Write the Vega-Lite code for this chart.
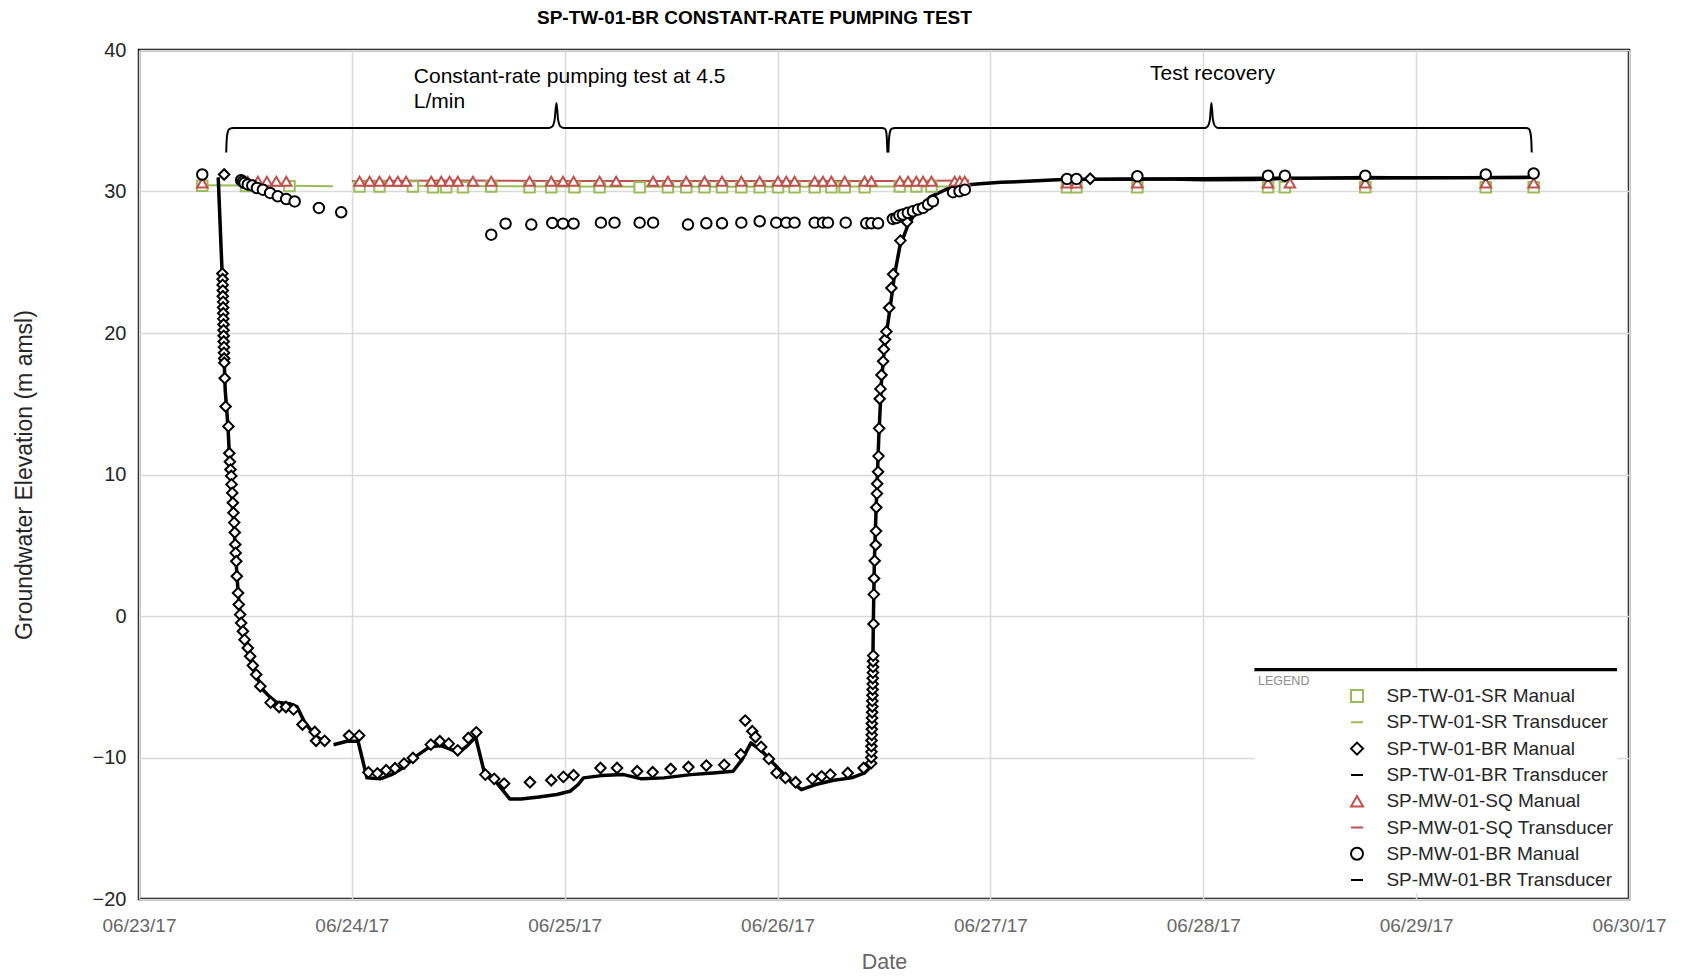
{
  "$schema": "https://vega.github.io/schema/vega-lite/v6.json",
  "width": 1490,
  "height": 849,
  "autosize": {"type": "none"},
  "padding": {"left": 139, "top": 50, "right": 54, "bottom": 77},
  "background": "white",
  "title": {
    "text": "SP-TW-01-BR CONSTANT-RATE PUMPING TEST",
    "anchor": "start",
    "frame": "group",
    "dx": 398,
    "offset": 12,
    "font": "Liberation Sans",
    "fontSize": 19,
    "fontWeight": "bold",
    "color": "#000000"
  },
  "config": {
    "font": "Liberation Sans",
    "view": {"stroke": "#000000", "strokeWidth": 2.5},
    "axis": {
      "domain": false,
      "gridColor": "#d9d9d9",
      "gridWidth": 1.5,
      "ticks": false,
      "labelFont": "Liberation Sans",
      "titleFont": "Liberation Sans",
      "titleFontWeight": "normal"
    }
  },
  "datasets": {
    "manual": [
      {"series": "SP-TW-01-SR Manual", "time": "2017-06-23T07:08", "elev": 30.4},
      {"series": "SP-TW-01-SR Manual", "time": "2017-06-23T12:04", "elev": 30.38},
      {"series": "SP-TW-01-SR Manual", "time": "2017-06-23T16:58", "elev": 30.38},
      {"series": "SP-TW-01-SR Manual", "time": "2017-06-24T00:52", "elev": 30.35},
      {"series": "SP-TW-01-SR Manual", "time": "2017-06-24T03:07", "elev": 30.35},
      {"series": "SP-TW-01-SR Manual", "time": "2017-06-24T06:53", "elev": 30.35},
      {"series": "SP-TW-01-SR Manual", "time": "2017-06-24T09:09", "elev": 30.3},
      {"series": "SP-TW-01-SR Manual", "time": "2017-06-24T10:38", "elev": 30.3},
      {"series": "SP-TW-01-SR Manual", "time": "2017-06-24T12:32", "elev": 30.3},
      {"series": "SP-TW-01-SR Manual", "time": "2017-06-24T15:43", "elev": 30.35},
      {"series": "SP-TW-01-SR Manual", "time": "2017-06-24T20:02", "elev": 30.3},
      {"series": "SP-TW-01-SR Manual", "time": "2017-06-24T22:29", "elev": 30.3},
      {"series": "SP-TW-01-SR Manual", "time": "2017-06-25T01:06", "elev": 30.3},
      {"series": "SP-TW-01-SR Manual", "time": "2017-06-25T03:56", "elev": 30.3},
      {"series": "SP-TW-01-SR Manual", "time": "2017-06-25T08:27", "elev": 30.3},
      {"series": "SP-TW-01-SR Manual", "time": "2017-06-25T11:38", "elev": 30.3},
      {"series": "SP-TW-01-SR Manual", "time": "2017-06-25T13:42", "elev": 30.3},
      {"series": "SP-TW-01-SR Manual", "time": "2017-06-25T15:46", "elev": 30.3},
      {"series": "SP-TW-01-SR Manual", "time": "2017-06-25T17:44", "elev": 30.3},
      {"series": "SP-TW-01-SR Manual", "time": "2017-06-25T19:55", "elev": 30.3},
      {"series": "SP-TW-01-SR Manual", "time": "2017-06-25T21:59", "elev": 30.3},
      {"series": "SP-TW-01-SR Manual", "time": "2017-06-26T00:03", "elev": 30.3},
      {"series": "SP-TW-01-SR Manual", "time": "2017-06-26T01:55", "elev": 30.3},
      {"series": "SP-TW-01-SR Manual", "time": "2017-06-26T04:11", "elev": 30.3},
      {"series": "SP-TW-01-SR Manual", "time": "2017-06-26T06:04", "elev": 30.3},
      {"series": "SP-TW-01-SR Manual", "time": "2017-06-26T07:34", "elev": 30.3},
      {"series": "SP-TW-01-SR Manual", "time": "2017-06-26T09:49", "elev": 30.3},
      {"series": "SP-TW-01-SR Manual", "time": "2017-06-26T13:47", "elev": 30.35},
      {"series": "SP-TW-01-SR Manual", "time": "2017-06-26T15:39", "elev": 30.35},
      {"series": "SP-TW-01-SR Manual", "time": "2017-06-26T17:21", "elev": 30.35},
      {"series": "SP-TW-01-SR Manual", "time": "2017-06-26T20:33", "elev": 30.35},
      {"series": "SP-TW-01-SR Manual", "time": "2017-06-27T08:38", "elev": 30.3},
      {"series": "SP-TW-01-SR Manual", "time": "2017-06-27T09:42", "elev": 30.3},
      {"series": "SP-TW-01-SR Manual", "time": "2017-06-27T16:34", "elev": 30.3},
      {"series": "SP-TW-01-SR Manual", "time": "2017-06-28T07:18", "elev": 30.3},
      {"series": "SP-TW-01-SR Manual", "time": "2017-06-28T09:12", "elev": 30.3},
      {"series": "SP-TW-01-SR Manual", "time": "2017-06-28T18:16", "elev": 30.3},
      {"series": "SP-TW-01-SR Manual", "time": "2017-06-29T07:51", "elev": 30.3},
      {"series": "SP-TW-01-SR Manual", "time": "2017-06-29T13:15", "elev": 30.3},

      {"series": "SP-MW-01-SQ Manual", "time": "2017-06-23T07:08", "elev": 30.6},
      {"series": "SP-MW-01-SQ Manual", "time": "2017-06-23T12:16", "elev": 30.72},
      {"series": "SP-MW-01-SQ Manual", "time": "2017-06-23T13:24", "elev": 30.72},
      {"series": "SP-MW-01-SQ Manual", "time": "2017-06-23T14:25", "elev": 30.72},
      {"series": "SP-MW-01-SQ Manual", "time": "2017-06-23T15:29", "elev": 30.72},
      {"series": "SP-MW-01-SQ Manual", "time": "2017-06-23T16:36", "elev": 30.72},
      {"series": "SP-MW-01-SQ Manual", "time": "2017-06-24T00:52", "elev": 30.72},
      {"series": "SP-MW-01-SQ Manual", "time": "2017-06-24T02:00", "elev": 30.72},
      {"series": "SP-MW-01-SQ Manual", "time": "2017-06-24T03:07", "elev": 30.72},
      {"series": "SP-MW-01-SQ Manual", "time": "2017-06-24T04:15", "elev": 30.72},
      {"series": "SP-MW-01-SQ Manual", "time": "2017-06-24T05:11", "elev": 30.72},
      {"series": "SP-MW-01-SQ Manual", "time": "2017-06-24T06:07", "elev": 30.72},
      {"series": "SP-MW-01-SQ Manual", "time": "2017-06-24T08:57", "elev": 30.72},
      {"series": "SP-MW-01-SQ Manual", "time": "2017-06-24T10:05", "elev": 30.72},
      {"series": "SP-MW-01-SQ Manual", "time": "2017-06-24T11:01", "elev": 30.72},
      {"series": "SP-MW-01-SQ Manual", "time": "2017-06-24T11:57", "elev": 30.72},
      {"series": "SP-MW-01-SQ Manual", "time": "2017-06-24T13:39", "elev": 30.72},
      {"series": "SP-MW-01-SQ Manual", "time": "2017-06-24T15:43", "elev": 30.72},
      {"series": "SP-MW-01-SQ Manual", "time": "2017-06-24T20:02", "elev": 30.72},
      {"series": "SP-MW-01-SQ Manual", "time": "2017-06-24T22:29", "elev": 30.72},
      {"series": "SP-MW-01-SQ Manual", "time": "2017-06-24T23:48", "elev": 30.72},
      {"series": "SP-MW-01-SQ Manual", "time": "2017-06-25T01:00", "elev": 30.72},
      {"series": "SP-MW-01-SQ Manual", "time": "2017-06-25T03:56", "elev": 30.72},
      {"series": "SP-MW-01-SQ Manual", "time": "2017-06-25T05:48", "elev": 30.72},
      {"series": "SP-MW-01-SQ Manual", "time": "2017-06-25T09:58", "elev": 30.72},
      {"series": "SP-MW-01-SQ Manual", "time": "2017-06-25T11:38", "elev": 30.72},
      {"series": "SP-MW-01-SQ Manual", "time": "2017-06-25T13:42", "elev": 30.72},
      {"series": "SP-MW-01-SQ Manual", "time": "2017-06-25T15:46", "elev": 30.72},
      {"series": "SP-MW-01-SQ Manual", "time": "2017-06-25T17:44", "elev": 30.72},
      {"series": "SP-MW-01-SQ Manual", "time": "2017-06-25T19:55", "elev": 30.72},
      {"series": "SP-MW-01-SQ Manual", "time": "2017-06-25T21:59", "elev": 30.72},
      {"series": "SP-MW-01-SQ Manual", "time": "2017-06-26T00:03", "elev": 30.72},
      {"series": "SP-MW-01-SQ Manual", "time": "2017-06-26T00:59", "elev": 30.72},
      {"series": "SP-MW-01-SQ Manual", "time": "2017-06-26T01:55", "elev": 30.72},
      {"series": "SP-MW-01-SQ Manual", "time": "2017-06-26T04:11", "elev": 30.72},
      {"series": "SP-MW-01-SQ Manual", "time": "2017-06-26T05:07", "elev": 30.72},
      {"series": "SP-MW-01-SQ Manual", "time": "2017-06-26T06:04", "elev": 30.72},
      {"series": "SP-MW-01-SQ Manual", "time": "2017-06-26T07:34", "elev": 30.72},
      {"series": "SP-MW-01-SQ Manual", "time": "2017-06-26T09:49", "elev": 30.72},
      {"series": "SP-MW-01-SQ Manual", "time": "2017-06-26T10:35", "elev": 30.72},
      {"series": "SP-MW-01-SQ Manual", "time": "2017-06-26T13:47", "elev": 30.72},
      {"series": "SP-MW-01-SQ Manual", "time": "2017-06-26T14:43", "elev": 30.72},
      {"series": "SP-MW-01-SQ Manual", "time": "2017-06-26T15:39", "elev": 30.72},
      {"series": "SP-MW-01-SQ Manual", "time": "2017-06-26T16:24", "elev": 30.72},
      {"series": "SP-MW-01-SQ Manual", "time": "2017-06-26T17:21", "elev": 30.72},
      {"series": "SP-MW-01-SQ Manual", "time": "2017-06-26T19:58", "elev": 30.72},
      {"series": "SP-MW-01-SQ Manual", "time": "2017-06-26T20:33", "elev": 30.72},
      {"series": "SP-MW-01-SQ Manual", "time": "2017-06-26T21:06", "elev": 30.72},
      {"series": "SP-MW-01-SQ Manual", "time": "2017-06-27T08:38", "elev": 30.6},
      {"series": "SP-MW-01-SQ Manual", "time": "2017-06-27T09:42", "elev": 30.6},
      {"series": "SP-MW-01-SQ Manual", "time": "2017-06-27T16:34", "elev": 30.6},
      {"series": "SP-MW-01-SQ Manual", "time": "2017-06-28T07:18", "elev": 30.6},
      {"series": "SP-MW-01-SQ Manual", "time": "2017-06-28T09:46", "elev": 30.6},
      {"series": "SP-MW-01-SQ Manual", "time": "2017-06-28T18:16", "elev": 30.6},
      {"series": "SP-MW-01-SQ Manual", "time": "2017-06-29T07:51", "elev": 30.6},
      {"series": "SP-MW-01-SQ Manual", "time": "2017-06-29T13:15", "elev": 30.6},

      {"series": "SP-TW-01-BR Manual", "time": "2017-06-23T09:36", "elev": 31.2},
      {"series": "SP-TW-01-BR Manual", "time": "2017-06-23T09:24", "elev": 24.2},
      {"series": "SP-TW-01-BR Manual", "time": "2017-06-23T09:26", "elev": 23.8},
      {"series": "SP-TW-01-BR Manual", "time": "2017-06-23T09:26", "elev": 23.4},
      {"series": "SP-TW-01-BR Manual", "time": "2017-06-23T09:27", "elev": 23.0},
      {"series": "SP-TW-01-BR Manual", "time": "2017-06-23T09:27", "elev": 22.6},
      {"series": "SP-TW-01-BR Manual", "time": "2017-06-23T09:29", "elev": 22.2},
      {"series": "SP-TW-01-BR Manual", "time": "2017-06-23T09:29", "elev": 21.8},
      {"series": "SP-TW-01-BR Manual", "time": "2017-06-23T09:30", "elev": 21.4},
      {"series": "SP-TW-01-BR Manual", "time": "2017-06-23T09:30", "elev": 21.0},
      {"series": "SP-TW-01-BR Manual", "time": "2017-06-23T09:32", "elev": 20.6},
      {"series": "SP-TW-01-BR Manual", "time": "2017-06-23T09:32", "elev": 20.2},
      {"series": "SP-TW-01-BR Manual", "time": "2017-06-23T09:33", "elev": 19.8},
      {"series": "SP-TW-01-BR Manual", "time": "2017-06-23T09:33", "elev": 19.4},
      {"series": "SP-TW-01-BR Manual", "time": "2017-06-23T09:35", "elev": 19.0},
      {"series": "SP-TW-01-BR Manual", "time": "2017-06-23T09:35", "elev": 18.6},
      {"series": "SP-TW-01-BR Manual", "time": "2017-06-23T09:36", "elev": 18.2},
      {"series": "SP-TW-01-BR Manual", "time": "2017-06-23T09:37", "elev": 17.9},
      {"series": "SP-TW-01-BR Manual", "time": "2017-06-23T09:40", "elev": 16.8},
      {"series": "SP-TW-01-BR Manual", "time": "2017-06-23T09:46", "elev": 14.8},
      {"series": "SP-TW-01-BR Manual", "time": "2017-06-23T10:05", "elev": 13.4},
      {"series": "SP-TW-01-BR Manual", "time": "2017-06-23T10:11", "elev": 11.5},
      {"series": "SP-TW-01-BR Manual", "time": "2017-06-23T10:15", "elev": 10.9},
      {"series": "SP-TW-01-BR Manual", "time": "2017-06-23T10:19", "elev": 10.35},
      {"series": "SP-TW-01-BR Manual", "time": "2017-06-23T10:24", "elev": 9.9},
      {"series": "SP-TW-01-BR Manual", "time": "2017-06-23T10:26", "elev": 9.3},
      {"series": "SP-TW-01-BR Manual", "time": "2017-06-23T10:31", "elev": 8.7},
      {"series": "SP-TW-01-BR Manual", "time": "2017-06-23T10:35", "elev": 8.0},
      {"series": "SP-TW-01-BR Manual", "time": "2017-06-23T10:39", "elev": 7.3},
      {"series": "SP-TW-01-BR Manual", "time": "2017-06-23T10:44", "elev": 6.6},
      {"series": "SP-TW-01-BR Manual", "time": "2017-06-23T10:48", "elev": 5.9},
      {"series": "SP-TW-01-BR Manual", "time": "2017-06-23T10:51", "elev": 5.05},
      {"series": "SP-TW-01-BR Manual", "time": "2017-06-23T10:54", "elev": 4.46},
      {"series": "SP-TW-01-BR Manual", "time": "2017-06-23T10:58", "elev": 3.87},
      {"series": "SP-TW-01-BR Manual", "time": "2017-06-23T11:02", "elev": 2.81},
      {"series": "SP-TW-01-BR Manual", "time": "2017-06-23T11:10", "elev": 1.63},
      {"series": "SP-TW-01-BR Manual", "time": "2017-06-23T11:15", "elev": 0.81},
      {"series": "SP-TW-01-BR Manual", "time": "2017-06-23T11:24", "elev": 0.1},
      {"series": "SP-TW-01-BR Manual", "time": "2017-06-23T11:31", "elev": -0.49},
      {"series": "SP-TW-01-BR Manual", "time": "2017-06-23T11:43", "elev": -1.08},
      {"series": "SP-TW-01-BR Manual", "time": "2017-06-23T11:54", "elev": -1.67},
      {"series": "SP-TW-01-BR Manual", "time": "2017-06-23T12:16", "elev": -2.26},
      {"series": "SP-TW-01-BR Manual", "time": "2017-06-23T12:32", "elev": -2.85},
      {"series": "SP-TW-01-BR Manual", "time": "2017-06-23T12:50", "elev": -3.5},
      {"series": "SP-TW-01-BR Manual", "time": "2017-06-23T13:13", "elev": -4.14},
      {"series": "SP-TW-01-BR Manual", "time": "2017-06-23T13:41", "elev": -4.97},
      {"series": "SP-TW-01-BR Manual", "time": "2017-06-23T14:50", "elev": -6.12},
      {"series": "SP-TW-01-BR Manual", "time": "2017-06-23T15:48", "elev": -6.43},
      {"series": "SP-TW-01-BR Manual", "time": "2017-06-23T16:34", "elev": -6.43},
      {"series": "SP-TW-01-BR Manual", "time": "2017-06-23T17:25", "elev": -6.6},
      {"series": "SP-TW-01-BR Manual", "time": "2017-06-23T18:26", "elev": -7.67},
      {"series": "SP-TW-01-BR Manual", "time": "2017-06-23T19:49", "elev": -8.2},
      {"series": "SP-TW-01-BR Manual", "time": "2017-06-23T19:58", "elev": -8.82},
      {"series": "SP-TW-01-BR Manual", "time": "2017-06-23T20:56", "elev": -8.82},
      {"series": "SP-TW-01-BR Manual", "time": "2017-06-23T23:41", "elev": -8.45},
      {"series": "SP-TW-01-BR Manual", "time": "2017-06-24T00:50", "elev": -8.45},
      {"series": "SP-TW-01-BR Manual", "time": "2017-06-24T01:52", "elev": -11.05},
      {"series": "SP-TW-01-BR Manual", "time": "2017-06-24T02:53", "elev": -11.12},
      {"series": "SP-TW-01-BR Manual", "time": "2017-06-24T03:52", "elev": -10.9},
      {"series": "SP-TW-01-BR Manual", "time": "2017-06-24T04:52", "elev": -10.76},
      {"series": "SP-TW-01-BR Manual", "time": "2017-06-24T05:53", "elev": -10.43},
      {"series": "SP-TW-01-BR Manual", "time": "2017-06-24T06:53", "elev": -10.03},
      {"series": "SP-TW-01-BR Manual", "time": "2017-06-24T08:54", "elev": -9.09},
      {"series": "SP-TW-01-BR Manual", "time": "2017-06-24T09:55", "elev": -8.85},
      {"series": "SP-TW-01-BR Manual", "time": "2017-06-24T10:55", "elev": -9.02},
      {"series": "SP-TW-01-BR Manual", "time": "2017-06-24T11:56", "elev": -9.49},
      {"series": "SP-TW-01-BR Manual", "time": "2017-06-24T13:08", "elev": -8.62},
      {"series": "SP-TW-01-BR Manual", "time": "2017-06-24T14:02", "elev": -8.22},
      {"series": "SP-TW-01-BR Manual", "time": "2017-06-24T15:03", "elev": -11.21},
      {"series": "SP-TW-01-BR Manual", "time": "2017-06-24T16:03", "elev": -11.51},
      {"series": "SP-TW-01-BR Manual", "time": "2017-06-24T17:10", "elev": -11.84},
      {"series": "SP-TW-01-BR Manual", "time": "2017-06-24T20:05", "elev": -11.75},
      {"series": "SP-TW-01-BR Manual", "time": "2017-06-24T22:29", "elev": -11.61},
      {"series": "SP-TW-01-BR Manual", "time": "2017-06-24T23:51", "elev": -11.37},
      {"series": "SP-TW-01-BR Manual", "time": "2017-06-25T01:00", "elev": -11.25},
      {"series": "SP-TW-01-BR Manual", "time": "2017-06-25T04:02", "elev": -10.74},
      {"series": "SP-TW-01-BR Manual", "time": "2017-06-25T05:54", "elev": -10.74},
      {"series": "SP-TW-01-BR Manual", "time": "2017-06-25T08:10", "elev": -10.97},
      {"series": "SP-TW-01-BR Manual", "time": "2017-06-25T09:55", "elev": -11.04},
      {"series": "SP-TW-01-BR Manual", "time": "2017-06-25T11:57", "elev": -10.81},
      {"series": "SP-TW-01-BR Manual", "time": "2017-06-25T13:57", "elev": -10.67},
      {"series": "SP-TW-01-BR Manual", "time": "2017-06-25T15:58", "elev": -10.57},
      {"series": "SP-TW-01-BR Manual", "time": "2017-06-25T17:59", "elev": -10.52},
      {"series": "SP-TW-01-BR Manual", "time": "2017-06-25T19:51", "elev": -9.79},
      {"series": "SP-TW-01-BR Manual", "time": "2017-06-25T20:21", "elev": -7.39},
      {"series": "SP-TW-01-BR Manual", "time": "2017-06-25T21:09", "elev": -8.14},
      {"series": "SP-TW-01-BR Manual", "time": "2017-06-25T21:30", "elev": -8.55},
      {"series": "SP-TW-01-BR Manual", "time": "2017-06-25T22:09", "elev": -9.25},
      {"series": "SP-TW-01-BR Manual", "time": "2017-06-25T23:01", "elev": -10.1},
      {"series": "SP-TW-01-BR Manual", "time": "2017-06-25T23:53", "elev": -11.09},
      {"series": "SP-TW-01-BR Manual", "time": "2017-06-26T00:53", "elev": -11.44},
      {"series": "SP-TW-01-BR Manual", "time": "2017-06-26T02:02", "elev": -11.75},
      {"series": "SP-TW-01-BR Manual", "time": "2017-06-26T03:55", "elev": -11.51},
      {"series": "SP-TW-01-BR Manual", "time": "2017-06-26T04:58", "elev": -11.33},
      {"series": "SP-TW-01-BR Manual", "time": "2017-06-26T05:57", "elev": -11.21},
      {"series": "SP-TW-01-BR Manual", "time": "2017-06-26T07:55", "elev": -11.09},
      {"series": "SP-TW-01-BR Manual", "time": "2017-06-26T09:42", "elev": -10.74},
      {"series": "SP-TW-01-BR Manual", "time": "2017-06-26T10:33", "elev": -10.4},
      {"series": "SP-TW-01-BR Manual", "time": "2017-06-26T10:34", "elev": -10.0},
      {"series": "SP-TW-01-BR Manual", "time": "2017-06-26T10:35", "elev": -9.6},
      {"series": "SP-TW-01-BR Manual", "time": "2017-06-26T10:35", "elev": -9.2},
      {"series": "SP-TW-01-BR Manual", "time": "2017-06-26T10:36", "elev": -8.8},
      {"series": "SP-TW-01-BR Manual", "time": "2017-06-26T10:37", "elev": -8.4},
      {"series": "SP-TW-01-BR Manual", "time": "2017-06-26T10:38", "elev": -8.0},
      {"series": "SP-TW-01-BR Manual", "time": "2017-06-26T10:38", "elev": -7.6},
      {"series": "SP-TW-01-BR Manual", "time": "2017-06-26T10:39", "elev": -7.2},
      {"series": "SP-TW-01-BR Manual", "time": "2017-06-26T10:40", "elev": -6.8},
      {"series": "SP-TW-01-BR Manual", "time": "2017-06-26T10:41", "elev": -6.4},
      {"series": "SP-TW-01-BR Manual", "time": "2017-06-26T10:41", "elev": -6.0},
      {"series": "SP-TW-01-BR Manual", "time": "2017-06-26T10:42", "elev": -5.6},
      {"series": "SP-TW-01-BR Manual", "time": "2017-06-26T10:43", "elev": -5.2},
      {"series": "SP-TW-01-BR Manual", "time": "2017-06-26T10:44", "elev": -4.8},
      {"series": "SP-TW-01-BR Manual", "time": "2017-06-26T10:44", "elev": -4.4},
      {"series": "SP-TW-01-BR Manual", "time": "2017-06-26T10:45", "elev": -4.0},
      {"series": "SP-TW-01-BR Manual", "time": "2017-06-26T10:46", "elev": -3.6},
      {"series": "SP-TW-01-BR Manual", "time": "2017-06-26T10:46", "elev": -3.2},
      {"series": "SP-TW-01-BR Manual", "time": "2017-06-26T10:47", "elev": -2.8},
      {"series": "SP-TW-01-BR Manual", "time": "2017-06-26T10:49", "elev": -0.57},
      {"series": "SP-TW-01-BR Manual", "time": "2017-06-26T10:51", "elev": 1.53},
      {"series": "SP-TW-01-BR Manual", "time": "2017-06-26T10:53", "elev": 2.65},
      {"series": "SP-TW-01-BR Manual", "time": "2017-06-26T10:57", "elev": 3.9},
      {"series": "SP-TW-01-BR Manual", "time": "2017-06-26T11:04", "elev": 5.02},
      {"series": "SP-TW-01-BR Manual", "time": "2017-06-26T11:06", "elev": 6.0},
      {"series": "SP-TW-01-BR Manual", "time": "2017-06-26T11:08", "elev": 7.67},
      {"series": "SP-TW-01-BR Manual", "time": "2017-06-26T11:12", "elev": 8.65},
      {"series": "SP-TW-01-BR Manual", "time": "2017-06-26T11:14", "elev": 9.35},
      {"series": "SP-TW-01-BR Manual", "time": "2017-06-26T11:20", "elev": 10.19},
      {"series": "SP-TW-01-BR Manual", "time": "2017-06-26T11:23", "elev": 11.3},
      {"series": "SP-TW-01-BR Manual", "time": "2017-06-26T11:27", "elev": 13.26},
      {"series": "SP-TW-01-BR Manual", "time": "2017-06-26T11:31", "elev": 15.35},
      {"series": "SP-TW-01-BR Manual", "time": "2017-06-26T11:36", "elev": 16.05},
      {"series": "SP-TW-01-BR Manual", "time": "2017-06-26T11:43", "elev": 17.03},
      {"series": "SP-TW-01-BR Manual", "time": "2017-06-26T11:54", "elev": 18.0},
      {"series": "SP-TW-01-BR Manual", "time": "2017-06-26T11:59", "elev": 18.85},
      {"series": "SP-TW-01-BR Manual", "time": "2017-06-26T12:07", "elev": 19.54},
      {"series": "SP-TW-01-BR Manual", "time": "2017-06-26T12:16", "elev": 20.1},
      {"series": "SP-TW-01-BR Manual", "time": "2017-06-26T12:35", "elev": 21.78},
      {"series": "SP-TW-01-BR Manual", "time": "2017-06-26T12:50", "elev": 23.18},
      {"series": "SP-TW-01-BR Manual", "time": "2017-06-26T13:02", "elev": 24.15},
      {"series": "SP-TW-01-BR Manual", "time": "2017-06-26T13:51", "elev": 26.53},
      {"series": "SP-TW-01-BR Manual", "time": "2017-06-26T14:36", "elev": 27.84},
      {"series": "SP-TW-01-BR Manual", "time": "2017-06-27T11:15", "elev": 30.9},

      {"series": "SP-MW-01-BR Manual", "time": "2017-06-23T07:08", "elev": 31.2},
      {"series": "SP-MW-01-BR Manual", "time": "2017-06-23T11:31", "elev": 30.8},
      {"series": "SP-MW-01-BR Manual", "time": "2017-06-23T11:43", "elev": 30.7},
      {"series": "SP-MW-01-BR Manual", "time": "2017-06-23T11:54", "elev": 30.6},
      {"series": "SP-MW-01-BR Manual", "time": "2017-06-23T12:16", "elev": 30.5},
      {"series": "SP-MW-01-BR Manual", "time": "2017-06-23T12:46", "elev": 30.42},
      {"series": "SP-MW-01-BR Manual", "time": "2017-06-23T13:18", "elev": 30.25},
      {"series": "SP-MW-01-BR Manual", "time": "2017-06-23T13:58", "elev": 30.13},
      {"series": "SP-MW-01-BR Manual", "time": "2017-06-23T14:47", "elev": 29.9},
      {"series": "SP-MW-01-BR Manual", "time": "2017-06-23T15:39", "elev": 29.66},
      {"series": "SP-MW-01-BR Manual", "time": "2017-06-23T16:36", "elev": 29.47},
      {"series": "SP-MW-01-BR Manual", "time": "2017-06-23T17:33", "elev": 29.3},
      {"series": "SP-MW-01-BR Manual", "time": "2017-06-23T20:17", "elev": 28.84},
      {"series": "SP-MW-01-BR Manual", "time": "2017-06-23T22:48", "elev": 28.53},
      {"series": "SP-MW-01-BR Manual", "time": "2017-06-24T15:43", "elev": 26.95},
      {"series": "SP-MW-01-BR Manual", "time": "2017-06-24T17:20", "elev": 27.73},
      {"series": "SP-MW-01-BR Manual", "time": "2017-06-24T20:14", "elev": 27.66},
      {"series": "SP-MW-01-BR Manual", "time": "2017-06-24T22:36", "elev": 27.78},
      {"series": "SP-MW-01-BR Manual", "time": "2017-06-24T23:48", "elev": 27.73},
      {"series": "SP-MW-01-BR Manual", "time": "2017-06-25T01:00", "elev": 27.73},
      {"series": "SP-MW-01-BR Manual", "time": "2017-06-25T04:05", "elev": 27.8},
      {"series": "SP-MW-01-BR Manual", "time": "2017-06-25T05:37", "elev": 27.8},
      {"series": "SP-MW-01-BR Manual", "time": "2017-06-25T08:27", "elev": 27.8},
      {"series": "SP-MW-01-BR Manual", "time": "2017-06-25T09:58", "elev": 27.8},
      {"series": "SP-MW-01-BR Manual", "time": "2017-06-25T13:54", "elev": 27.66},
      {"series": "SP-MW-01-BR Manual", "time": "2017-06-25T15:58", "elev": 27.75},
      {"series": "SP-MW-01-BR Manual", "time": "2017-06-25T17:44", "elev": 27.75},
      {"series": "SP-MW-01-BR Manual", "time": "2017-06-25T19:55", "elev": 27.8},
      {"series": "SP-MW-01-BR Manual", "time": "2017-06-25T21:59", "elev": 27.9},
      {"series": "SP-MW-01-BR Manual", "time": "2017-06-25T23:51", "elev": 27.8},
      {"series": "SP-MW-01-BR Manual", "time": "2017-06-26T00:59", "elev": 27.8},
      {"series": "SP-MW-01-BR Manual", "time": "2017-06-26T01:55", "elev": 27.8},
      {"series": "SP-MW-01-BR Manual", "time": "2017-06-26T04:11", "elev": 27.8},
      {"series": "SP-MW-01-BR Manual", "time": "2017-06-26T05:07", "elev": 27.8},
      {"series": "SP-MW-01-BR Manual", "time": "2017-06-26T05:41", "elev": 27.8},
      {"series": "SP-MW-01-BR Manual", "time": "2017-06-26T07:41", "elev": 27.8},
      {"series": "SP-MW-01-BR Manual", "time": "2017-06-26T10:00", "elev": 27.75},
      {"series": "SP-MW-01-BR Manual", "time": "2017-06-26T10:35", "elev": 27.75},
      {"series": "SP-MW-01-BR Manual", "time": "2017-06-26T11:20", "elev": 27.75},
      {"series": "SP-MW-01-BR Manual", "time": "2017-06-26T13:00", "elev": 28.06},
      {"series": "SP-MW-01-BR Manual", "time": "2017-06-26T13:24", "elev": 28.13},
      {"series": "SP-MW-01-BR Manual", "time": "2017-06-26T13:44", "elev": 28.3},
      {"series": "SP-MW-01-BR Manual", "time": "2017-06-26T14:08", "elev": 28.37},
      {"series": "SP-MW-01-BR Manual", "time": "2017-06-26T14:41", "elev": 28.5},
      {"series": "SP-MW-01-BR Manual", "time": "2017-06-26T15:16", "elev": 28.6},
      {"series": "SP-MW-01-BR Manual", "time": "2017-06-26T15:50", "elev": 28.72},
      {"series": "SP-MW-01-BR Manual", "time": "2017-06-26T16:24", "elev": 28.84},
      {"series": "SP-MW-01-BR Manual", "time": "2017-06-26T16:58", "elev": 29.08},
      {"series": "SP-MW-01-BR Manual", "time": "2017-06-26T17:31", "elev": 29.31},
      {"series": "SP-MW-01-BR Manual", "time": "2017-06-26T19:47", "elev": 29.95},
      {"series": "SP-MW-01-BR Manual", "time": "2017-06-26T20:31", "elev": 30.02},
      {"series": "SP-MW-01-BR Manual", "time": "2017-06-26T21:07", "elev": 30.13},
      {"series": "SP-MW-01-BR Manual", "time": "2017-06-27T08:38", "elev": 30.89},
      {"series": "SP-MW-01-BR Manual", "time": "2017-06-27T09:42", "elev": 30.89},
      {"series": "SP-MW-01-BR Manual", "time": "2017-06-27T16:34", "elev": 31.08},
      {"series": "SP-MW-01-BR Manual", "time": "2017-06-28T07:18", "elev": 31.12},
      {"series": "SP-MW-01-BR Manual", "time": "2017-06-28T09:12", "elev": 31.12},
      {"series": "SP-MW-01-BR Manual", "time": "2017-06-28T18:16", "elev": 31.12},
      {"series": "SP-MW-01-BR Manual", "time": "2017-06-29T07:51", "elev": 31.2},
      {"series": "SP-MW-01-BR Manual", "time": "2017-06-29T13:15", "elev": 31.27}
    ],
    "transducer": [
      {"series": "SP-TW-01-SR Transducer", "segment": 1, "time": "2017-06-23T06:29", "elev": 30.45},
      {"series": "SP-TW-01-SR Transducer", "segment": 1, "time": "2017-06-23T12:00", "elev": 30.43},
      {"series": "SP-TW-01-SR Transducer", "segment": 1, "time": "2017-06-23T16:48", "elev": 30.4},
      {"series": "SP-TW-01-SR Transducer", "segment": 1, "time": "2017-06-23T21:52", "elev": 30.37},
      {"series": "SP-TW-01-SR Transducer", "segment": 2, "time": "2017-06-24T00:19", "elev": 30.42},
      {"series": "SP-TW-01-SR Transducer", "segment": 2, "time": "2017-06-24T12:00", "elev": 30.38},
      {"series": "SP-TW-01-SR Transducer", "segment": 2, "time": "2017-06-25T00:00", "elev": 30.35},
      {"series": "SP-TW-01-SR Transducer", "segment": 2, "time": "2017-06-25T12:00", "elev": 30.33},
      {"series": "SP-TW-01-SR Transducer", "segment": 2, "time": "2017-06-26T00:00", "elev": 30.33},
      {"series": "SP-TW-01-SR Transducer", "segment": 2, "time": "2017-06-26T12:00", "elev": 30.35},
      {"series": "SP-TW-01-SR Transducer", "segment": 2, "time": "2017-06-26T21:36", "elev": 30.35},

      {"series": "SP-MW-01-SQ Transducer", "segment": 1, "time": "2017-06-24T00:00", "elev": 30.75},
      {"series": "SP-MW-01-SQ Transducer", "segment": 1, "time": "2017-06-24T12:00", "elev": 30.77},
      {"series": "SP-MW-01-SQ Transducer", "segment": 1, "time": "2017-06-25T00:00", "elev": 30.75},
      {"series": "SP-MW-01-SQ Transducer", "segment": 1, "time": "2017-06-25T12:00", "elev": 30.74},
      {"series": "SP-MW-01-SQ Transducer", "segment": 1, "time": "2017-06-26T00:00", "elev": 30.75},
      {"series": "SP-MW-01-SQ Transducer", "segment": 1, "time": "2017-06-26T12:00", "elev": 30.75},
      {"series": "SP-MW-01-SQ Transducer", "segment": 1, "time": "2017-06-26T21:36", "elev": 30.78},

      {"series": "SP-MW-01-BR Transducer", "segment": 1, "time": "2017-06-27T07:12", "elev": 30.82},
      {"series": "SP-MW-01-BR Transducer", "segment": 1, "time": "2017-06-27T19:12", "elev": 30.85},
      {"series": "SP-MW-01-BR Transducer", "segment": 1, "time": "2017-06-28T00:00", "elev": 30.78},
      {"series": "SP-MW-01-BR Transducer", "segment": 1, "time": "2017-06-28T06:00", "elev": 30.8},
      {"series": "SP-MW-01-BR Transducer", "segment": 1, "time": "2017-06-28T12:00", "elev": 30.95},
      {"series": "SP-MW-01-BR Transducer", "segment": 1, "time": "2017-06-28T18:00", "elev": 31.05},
      {"series": "SP-MW-01-BR Transducer", "segment": 1, "time": "2017-06-29T00:00", "elev": 31.0},
      {"series": "SP-MW-01-BR Transducer", "segment": 1, "time": "2017-06-29T13:12", "elev": 31.05},

      {"series": "SP-TW-01-BR Transducer", "segment": 1, "time": "2017-06-23T08:56", "elev": 31.0},
      {"series": "SP-TW-01-BR Transducer", "segment": 1, "time": "2017-06-23T09:22", "elev": 24.3},
      {"series": "SP-TW-01-BR Transducer", "segment": 1, "time": "2017-06-23T09:37", "elev": 17.9},
      {"series": "SP-TW-01-BR Transducer", "segment": 1, "time": "2017-06-23T09:43", "elev": 16.0},
      {"series": "SP-TW-01-BR Transducer", "segment": 1, "time": "2017-06-23T10:02", "elev": 13.4},
      {"series": "SP-TW-01-BR Transducer", "segment": 1, "time": "2017-06-23T10:13", "elev": 11.0},
      {"series": "SP-TW-01-BR Transducer", "segment": 1, "time": "2017-06-23T10:29", "elev": 8.3},
      {"series": "SP-TW-01-BR Transducer", "segment": 1, "time": "2017-06-23T10:44", "elev": 6.0},
      {"series": "SP-TW-01-BR Transducer", "segment": 1, "time": "2017-06-23T10:55", "elev": 4.2},
      {"series": "SP-TW-01-BR Transducer", "segment": 1, "time": "2017-06-23T11:05", "elev": 2.5},
      {"series": "SP-TW-01-BR Transducer", "segment": 1, "time": "2017-06-23T11:17", "elev": 0.8},
      {"series": "SP-TW-01-BR Transducer", "segment": 1, "time": "2017-06-23T11:31", "elev": -0.5},
      {"series": "SP-TW-01-BR Transducer", "segment": 1, "time": "2017-06-23T11:53", "elev": -1.7},
      {"series": "SP-TW-01-BR Transducer", "segment": 1, "time": "2017-06-23T12:22", "elev": -2.5},
      {"series": "SP-TW-01-BR Transducer", "segment": 1, "time": "2017-06-23T12:50", "elev": -3.5},
      {"series": "SP-TW-01-BR Transducer", "segment": 1, "time": "2017-06-23T13:19", "elev": -4.3},
      {"series": "SP-TW-01-BR Transducer", "segment": 1, "time": "2017-06-23T13:48", "elev": -5.1},
      {"series": "SP-TW-01-BR Transducer", "segment": 1, "time": "2017-06-23T14:43", "elev": -5.7},
      {"series": "SP-TW-01-BR Transducer", "segment": 1, "time": "2017-06-23T15:29", "elev": -6.1},
      {"series": "SP-TW-01-BR Transducer", "segment": 1, "time": "2017-06-23T16:58", "elev": -6.2},
      {"series": "SP-TW-01-BR Transducer", "segment": 1, "time": "2017-06-23T17:48", "elev": -6.4},
      {"series": "SP-TW-01-BR Transducer", "segment": 1, "time": "2017-06-23T18:40", "elev": -7.5},
      {"series": "SP-TW-01-BR Transducer", "segment": 1, "time": "2017-06-23T19:48", "elev": -8.4},
      {"series": "SP-TW-01-BR Transducer", "segment": 1, "time": "2017-06-23T20:44", "elev": -8.85},
      {"series": "SP-TW-01-BR Transducer", "segment": 2, "time": "2017-06-23T21:56", "elev": -9.1},
      {"series": "SP-TW-01-BR Transducer", "segment": 2, "time": "2017-06-23T23:27", "elev": -8.85},
      {"series": "SP-TW-01-BR Transducer", "segment": 2, "time": "2017-06-24T00:42", "elev": -8.85},
      {"series": "SP-TW-01-BR Transducer", "segment": 2, "time": "2017-06-24T01:42", "elev": -11.44},
      {"series": "SP-TW-01-BR Transducer", "segment": 2, "time": "2017-06-24T03:13", "elev": -11.51},
      {"series": "SP-TW-01-BR Transducer", "segment": 2, "time": "2017-06-24T04:28", "elev": -11.21},
      {"series": "SP-TW-01-BR Transducer", "segment": 2, "time": "2017-06-24T05:44", "elev": -10.74},
      {"series": "SP-TW-01-BR Transducer", "segment": 2, "time": "2017-06-24T06:59", "elev": -10.03},
      {"series": "SP-TW-01-BR Transducer", "segment": 2, "time": "2017-06-24T08:46", "elev": -9.25},
      {"series": "SP-TW-01-BR Transducer", "segment": 2, "time": "2017-06-24T10:00", "elev": -9.16},
      {"series": "SP-TW-01-BR Transducer", "segment": 2, "time": "2017-06-24T11:01", "elev": -9.39},
      {"series": "SP-TW-01-BR Transducer", "segment": 2, "time": "2017-06-24T12:01", "elev": -9.68},
      {"series": "SP-TW-01-BR Transducer", "segment": 2, "time": "2017-06-24T13:02", "elev": -9.16},
      {"series": "SP-TW-01-BR Transducer", "segment": 2, "time": "2017-06-24T13:57", "elev": -8.55},
      {"series": "SP-TW-01-BR Transducer", "segment": 2, "time": "2017-06-24T14:57", "elev": -11.09},
      {"series": "SP-TW-01-BR Transducer", "segment": 2, "time": "2017-06-24T16:03", "elev": -11.56},
      {"series": "SP-TW-01-BR Transducer", "segment": 2, "time": "2017-06-24T17:48", "elev": -12.93},
      {"series": "SP-TW-01-BR Transducer", "segment": 2, "time": "2017-06-24T19:05", "elev": -12.93},
      {"series": "SP-TW-01-BR Transducer", "segment": 2, "time": "2017-06-24T21:06", "elev": -12.79},
      {"series": "SP-TW-01-BR Transducer", "segment": 2, "time": "2017-06-24T23:07", "elev": -12.62},
      {"series": "SP-TW-01-BR Transducer", "segment": 2, "time": "2017-06-25T00:36", "elev": -12.39},
      {"series": "SP-TW-01-BR Transducer", "segment": 2, "time": "2017-06-25T01:31", "elev": -11.91},
      {"series": "SP-TW-01-BR Transducer", "segment": 2, "time": "2017-06-25T02:07", "elev": -11.44},
      {"series": "SP-TW-01-BR Transducer", "segment": 2, "time": "2017-06-25T04:08", "elev": -11.28},
      {"series": "SP-TW-01-BR Transducer", "segment": 2, "time": "2017-06-25T06:39", "elev": -11.21},
      {"series": "SP-TW-01-BR Transducer", "segment": 2, "time": "2017-06-25T08:40", "elev": -11.51},
      {"series": "SP-TW-01-BR Transducer", "segment": 2, "time": "2017-06-25T11:11", "elev": -11.44},
      {"series": "SP-TW-01-BR Transducer", "segment": 2, "time": "2017-06-25T14:12", "elev": -11.21},
      {"series": "SP-TW-01-BR Transducer", "segment": 2, "time": "2017-06-25T16:44", "elev": -11.09},
      {"series": "SP-TW-01-BR Transducer", "segment": 2, "time": "2017-06-25T18:59", "elev": -10.97},
      {"series": "SP-TW-01-BR Transducer", "segment": 2, "time": "2017-06-25T20:00", "elev": -10.15},
      {"series": "SP-TW-01-BR Transducer", "segment": 2, "time": "2017-06-25T21:00", "elev": -8.97},
      {"series": "SP-TW-01-BR Transducer", "segment": 2, "time": "2017-06-25T22:15", "elev": -9.56},
      {"series": "SP-TW-01-BR Transducer", "segment": 2, "time": "2017-06-25T23:46", "elev": -10.57},
      {"series": "SP-TW-01-BR Transducer", "segment": 2, "time": "2017-06-26T01:16", "elev": -11.56},
      {"series": "SP-TW-01-BR Transducer", "segment": 2, "time": "2017-06-26T02:41", "elev": -12.27},
      {"series": "SP-TW-01-BR Transducer", "segment": 2, "time": "2017-06-26T04:18", "elev": -11.91},
      {"series": "SP-TW-01-BR Transducer", "segment": 2, "time": "2017-06-26T06:19", "elev": -11.61},
      {"series": "SP-TW-01-BR Transducer", "segment": 2, "time": "2017-06-26T08:20", "elev": -11.44},
      {"series": "SP-TW-01-BR Transducer", "segment": 2, "time": "2017-06-26T09:50", "elev": -11.09},
      {"series": "SP-TW-01-BR Transducer", "segment": 2, "time": "2017-06-26T10:34", "elev": -10.6},
      {"series": "SP-TW-01-BR Transducer", "segment": 2, "time": "2017-06-26T10:42", "elev": -9.5},
      {"series": "SP-TW-01-BR Transducer", "segment": 2, "time": "2017-06-26T10:45", "elev": -3.0},
      {"series": "SP-TW-01-BR Transducer", "segment": 2, "time": "2017-06-26T10:48", "elev": -0.4},
      {"series": "SP-TW-01-BR Transducer", "segment": 2, "time": "2017-06-26T10:55", "elev": 4.0},
      {"series": "SP-TW-01-BR Transducer", "segment": 2, "time": "2017-06-26T11:07", "elev": 7.67},
      {"series": "SP-TW-01-BR Transducer", "segment": 2, "time": "2017-06-26T11:25", "elev": 12.7},
      {"series": "SP-TW-01-BR Transducer", "segment": 2, "time": "2017-06-26T11:43", "elev": 16.6},
      {"series": "SP-TW-01-BR Transducer", "segment": 2, "time": "2017-06-26T12:04", "elev": 19.1},
      {"series": "SP-TW-01-BR Transducer", "segment": 2, "time": "2017-06-26T12:39", "elev": 21.6},
      {"series": "SP-TW-01-BR Transducer", "segment": 2, "time": "2017-06-26T13:12", "elev": 24.15},
      {"series": "SP-TW-01-BR Transducer", "segment": 2, "time": "2017-06-26T13:47", "elev": 26.1},
      {"series": "SP-TW-01-BR Transducer", "segment": 2, "time": "2017-06-26T14:43", "elev": 27.65},
      {"series": "SP-TW-01-BR Transducer", "segment": 2, "time": "2017-06-26T15:39", "elev": 28.62},
      {"series": "SP-TW-01-BR Transducer", "segment": 2, "time": "2017-06-26T17:10", "elev": 29.6},
      {"series": "SP-TW-01-BR Transducer", "segment": 2, "time": "2017-06-26T19:02", "elev": 30.16},
      {"series": "SP-TW-01-BR Transducer", "segment": 2, "time": "2017-06-26T20:56", "elev": 30.45},
      {"series": "SP-TW-01-BR Transducer", "segment": 2, "time": "2017-06-26T22:48", "elev": 30.55},
      {"series": "SP-TW-01-BR Transducer", "segment": 2, "time": "2017-06-27T01:12", "elev": 30.65},
      {"series": "SP-TW-01-BR Transducer", "segment": 2, "time": "2017-06-27T04:05", "elev": 30.72},
      {"series": "SP-TW-01-BR Transducer", "segment": 2, "time": "2017-06-27T08:10", "elev": 30.84},
      {"series": "SP-TW-01-BR Transducer", "segment": 2, "time": "2017-06-27T14:24", "elev": 30.88},
      {"series": "SP-TW-01-BR Transducer", "segment": 2, "time": "2017-06-28T00:00", "elev": 30.9},
      {"series": "SP-TW-01-BR Transducer", "segment": 2, "time": "2017-06-28T07:12", "elev": 30.93},
      {"series": "SP-TW-01-BR Transducer", "segment": 2, "time": "2017-06-28T19:12", "elev": 30.95},
      {"series": "SP-TW-01-BR Transducer", "segment": 2, "time": "2017-06-29T04:48", "elev": 30.97},
      {"series": "SP-TW-01-BR Transducer", "segment": 2, "time": "2017-06-29T13:12", "elev": 31.0}
    ],
    "braces": [
      {"brace": "pumping", "time": "2017-06-23T09:50", "elev": 32.75},
      {"brace": "pumping", "time": "2017-06-23T09:53", "elev": 33.6},
      {"brace": "pumping", "time": "2017-06-23T09:59", "elev": 34.15},
      {"brace": "pumping", "time": "2017-06-23T10:12", "elev": 34.42},
      {"brace": "pumping", "time": "2017-06-23T10:41", "elev": 34.49},
      {"brace": "pumping", "time": "2017-06-24T22:12", "elev": 34.49},
      {"brace": "pumping", "time": "2017-06-24T22:36", "elev": 34.6},
      {"brace": "pumping", "time": "2017-06-24T22:52", "elev": 35.1},
      {"brace": "pumping", "time": "2017-06-24T23:04", "elev": 36.26},
      {"brace": "pumping", "time": "2017-06-24T23:15", "elev": 35.1},
      {"brace": "pumping", "time": "2017-06-24T23:31", "elev": 34.6},
      {"brace": "pumping", "time": "2017-06-24T23:56", "elev": 34.49},
      {"brace": "pumping", "time": "2017-06-26T11:46", "elev": 34.49},
      {"brace": "pumping", "time": "2017-06-26T12:07", "elev": 34.42},
      {"brace": "pumping", "time": "2017-06-26T12:16", "elev": 34.15},
      {"brace": "pumping", "time": "2017-06-26T12:20", "elev": 33.6},
      {"brace": "pumping", "time": "2017-06-26T12:23", "elev": 32.75},
      {"brace": "recovery", "time": "2017-06-26T12:30", "elev": 32.75},
      {"brace": "recovery", "time": "2017-06-26T12:33", "elev": 33.6},
      {"brace": "recovery", "time": "2017-06-26T12:39", "elev": 34.15},
      {"brace": "recovery", "time": "2017-06-26T12:50", "elev": 34.42},
      {"brace": "recovery", "time": "2017-06-26T13:15", "elev": 34.49},
      {"brace": "recovery", "time": "2017-06-28T00:07", "elev": 34.49},
      {"brace": "recovery", "time": "2017-06-28T00:29", "elev": 34.6},
      {"brace": "recovery", "time": "2017-06-28T00:45", "elev": 35.1},
      {"brace": "recovery", "time": "2017-06-28T00:55", "elev": 36.26},
      {"brace": "recovery", "time": "2017-06-28T01:05", "elev": 35.1},
      {"brace": "recovery", "time": "2017-06-28T01:21", "elev": 34.6},
      {"brace": "recovery", "time": "2017-06-28T01:42", "elev": 34.49},
      {"brace": "recovery", "time": "2017-06-29T12:22", "elev": 34.49},
      {"brace": "recovery", "time": "2017-06-29T12:43", "elev": 34.42},
      {"brace": "recovery", "time": "2017-06-29T12:53", "elev": 34.15},
      {"brace": "recovery", "time": "2017-06-29T12:59", "elev": 33.6},
      {"brace": "recovery", "time": "2017-06-29T13:02", "elev": 32.75}
    ],
    "phase_notes": [
      {"time": "2017-06-24T06:59", "elev": 38.07, "note": "Constant-rate pumping test at 4.5"},
      {"time": "2017-06-24T06:59", "elev": 36.33, "note": "L/min"}
    ],
    "recovery_note": [
      {"time": "2017-06-28T01:02", "elev": 38.3, "note": "Test recovery"}
    ],
    "legend_bar": [
      {"time": "2017-06-28T05:46", "time_end": "2017-06-29T22:39", "elev": -3.8}
    ]
  },
  "encoding": {
    "x": {
      "field": "time", "type": "temporal",
      "scale": {"domain": [{"year": 2017, "month": 6, "date": 23}, {"year": 2017, "month": 6, "date": 30}], "nice": false},
      "axis": {
        "values": [{"year": 2017, "month": 6, "date": 23}, {"year": 2017, "month": 6, "date": 24}, {"year": 2017, "month": 6, "date": 25}, {"year": 2017, "month": 6, "date": 26}, {"year": 2017, "month": 6, "date": 27}, {"year": 2017, "month": 6, "date": 28}, {"year": 2017, "month": 6, "date": 29}, {"year": 2017, "month": 6, "date": 30}],
        "format": "%m/%d/%y", "labelFontSize": 19, "labelColor": "#666666", "labelPadding": 17, "labelFlush": false, "labelOverlap": false,
        "grid": true,
        "title": "Date", "titleFontSize": 21.5, "titleColor": "#666666", "titlePadding": 16
      }
    },
    "y": {
      "field": "elev", "type": "quantitative",
      "scale": {"domain": [-20, 40], "nice": false, "zero": false},
      "axis": {
        "values": [-20, -10, 0, 10, 20, 30, 40], "labelFontSize": 20, "labelColor": "#262626", "labelPadding": 13, "grid": true,
        "title": "Groundwater Elevation (m amsl)", "titleFontSize": 23, "titleColor": "#262626", "titlePadding": 56
      }
    }
  },
  "layer": [
    {
      "data": {"name": "transducer"},
      "transform": [{"filter": "datum.series !== 'SP-TW-01-BR Transducer'"}],
      "mark": {"type": "line", "strokeWidth": 2},
      "encoding": {
        "stroke": {"field": "series", "type": "nominal",
                   "scale": {"domain": ["SP-TW-01-SR Manual", "SP-TW-01-SR Transducer", "SP-TW-01-BR Manual", "SP-TW-01-BR Transducer", "SP-MW-01-SQ Manual", "SP-MW-01-SQ Transducer", "SP-MW-01-BR Manual", "SP-MW-01-BR Transducer"],
                             "range": ["#9bbb59", "#9bbb59", "#000000", "#000000", "#c0504d", "#c0504d", "#000000", "#000000"]},
                   "legend": {"title": "LEGEND", "orient": "none", "legendX": 1116, "legendY": 621.5}},
        "detail": {"field": "segment", "type": "nominal"}
      }
    },
    {
      "data": {"name": "transducer"},
      "transform": [{"filter": "datum.series === 'SP-TW-01-BR Transducer'"}],
      "mark": {"type": "line", "strokeWidth": 3.5, "strokeJoin": "round"},
      "encoding": {
        "stroke": {"field": "series", "type": "nominal",
                   "legend": {"title": "LEGEND", "orient": "none", "legendX": 1116, "legendY": 621.5}},
        "detail": {"field": "segment", "type": "nominal"}
      }
    },
    {
      "data": {"name": "braces"},
      "mark": {"type": "line", "interpolate": "monotone", "stroke": "#000000", "strokeWidth": 2},
      "encoding": {
        "detail": {"field": "brace", "type": "nominal"}
      }
    },
    {
      "data": {"name": "manual"},
      "mark": {"type": "point", "filled": false, "fill": "white", "fillOpacity": 1, "opacity": 1, "strokeWidth": 2, "size": 110},
      "encoding": {
        "stroke": {"field": "series", "type": "nominal",
                   "legend": {"title": "LEGEND", "orient": "none", "legendX": 1116, "legendY": 621.5, "direction": "vertical",
                              "padding": 3, "fillColor": "white",
                              "titleOrient": "top", "titleAnchor": "start", "titleFont": "Liberation Sans", "titleFontSize": 12.5, "titleFontWeight": "normal", "titleColor": "#8c8c8c", "titlePadding": 0,
                              "labelFont": "Liberation Sans", "labelFontSize": 19, "labelColor": "#262626", "labelLimit": 400,
                              "symbolSize": 144, "clipHeight": 18, "rowPadding": 7.3, "symbolOffset": 89.5, "labelOffset": 19.9, "symbolStrokeWidth": 2}},
        "shape": {"field": "series", "type": "nominal",
                  "scale": {"domain": ["SP-TW-01-SR Manual", "SP-TW-01-SR Transducer", "SP-TW-01-BR Manual", "SP-TW-01-BR Transducer", "SP-MW-01-SQ Manual", "SP-MW-01-SQ Transducer", "SP-MW-01-BR Manual", "SP-MW-01-BR Transducer"],
                            "range": ["square", "stroke", "diamond", "stroke", "triangle-up", "stroke", "circle", "stroke"]},
                  "legend": {"title": "LEGEND", "orient": "none", "legendX": 1116, "legendY": 621.5}}
      }
    },
    {
      "data": {"name": "phase_notes"},
      "mark": {"type": "text", "align": "left", "baseline": "middle", "font": "Liberation Sans", "fontSize": 21, "color": "#000000"},
      "encoding": {
        "text": {"field": "note", "type": "nominal"}
      }
    },
    {
      "data": {"name": "recovery_note"},
      "mark": {"type": "text", "align": "center", "baseline": "middle", "font": "Liberation Sans", "fontSize": 21, "color": "#000000"},
      "encoding": {
        "text": {"field": "note", "type": "nominal"}
      }
    },
    {
      "data": {"name": "legend_bar"},
      "mark": {"type": "rule", "stroke": "#000000", "strokeWidth": 3.5},
      "encoding": {
        "x2": {"field": "time_end"}
      }
    }
  ]
}
